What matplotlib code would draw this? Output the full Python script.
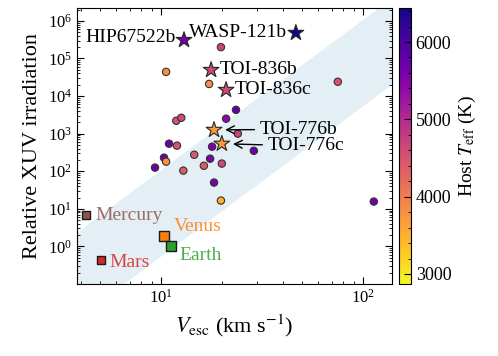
import numpy as np
import matplotlib
matplotlib.use("Agg")
import matplotlib.pyplot as plt
from matplotlib.colors import Normalize
from matplotlib.ticker import MultipleLocator

plt.rcParams['font.family'] = ['Liberation Serif', 'DejaVu Serif']
plt.rcParams['mathtext.fontset'] = 'stix'

# other planets (circles): escape velocity (km/s), relative XUV, host Teff (K)
vesc = [19.8, 10.6, 17.3, 23.5, 21.0, 11.9, 12.6, 24.0, 17.9, 28.8, 10.96, 12.0,
        14.6, 17.5, 10.35, 10.6, 9.34, 16.3, 20.0, 12.9, 18.3, 19.8, 75.0, 113.0]
xuv = [2.0e5, 4.4e4, 2.1e4, 4300, 2500, 2200, 2640, 1000, 450, 350, 540, 480,
       275, 216, 230, 180, 125, 140, 160, 104, 50, 16.6, 2.4e4, 15.6]
teff = [4700, 3800, 3800, 5800, 5400, 4500, 4600, 4700, 5600, 5700, 5700, 4500,
        4400, 5600, 5700, 3800, 5700, 4400, 4600, 4400, 5600, 3500, 4500, 5700]

# highlighted planets (stars)
star_names = ['HIP67522b', 'WASP-121b', 'TOI-836b', 'TOI-836c', 'TOI-776b', 'TOI-776c']
star_vesc = [13.0, 46.5, 17.7, 21.0, 18.3, 20.0]
star_xuv = [3.1e5, 4.8e5, 4.95e4, 1.46e4, 1.26e3, 540]
star_teff = [5650, 6440, 4600, 4600, 3700, 3700]

# solar system
ss_names = ['Mercury', 'Venus', 'Earth', 'Mars']
ss_vesc = [4.25, 10.36, 11.19, 5.03]
ss_xuv = [6.67, 1.91, 1.0, 0.43]
ss_colors = ['tab:brown', 'tab:orange', 'tab:green', 'tab:red']
ss_size = [30, 55, 55, 30]

# cosmic shoreline band: log I = 4 log v + c
band_lo, band_hi = -4.25, -1.95

fig = plt.figure(figsize=(4.98, 3.56), dpi=100)
ax = fig.add_axes([0.1546, 0.2022, 0.6325, 0.7753])
cax = fig.add_axes([0.801, 0.2022, 0.024, 0.7753])

norm = Normalize(vmin=2870, vmax=6440)
cmap = plt.get_cmap('plasma_r')

xx = np.logspace(np.log10(3.5), np.log10(160), 200)
ax.fill_between(xx, 10 ** (4 * np.log10(xx) + band_lo), 10 ** (4 * np.log10(xx) + band_hi),
                color='tab:blue', alpha=0.12, lw=0, zorder=0)

ax.scatter(vesc, xuv, c=teff, cmap=cmap, norm=norm, s=28, edgecolors='0.2', linewidths=0.8, zorder=3)
sc = ax.scatter(star_vesc, star_xuv, c=star_teff, cmap=cmap, norm=norm, marker='*', s=140,
                edgecolors='0.15', linewidths=0.8, zorder=4)
for v, i, c, s in zip(ss_vesc, ss_xuv, ss_colors, ss_size):
    ax.scatter(v, i, marker='s', s=s, color=c, edgecolors='0.1', linewidths=1.0, zorder=4)

fs = 14
offsets = {'HIP67522b': (-6, 1.5, 'right'), 'WASP-121b': (-6, 0, 'right'),
           'TOI-836b': (6.5, 0, 'left'), 'TOI-836c': (6, 0, 'left')}
for n, v, i in zip(star_names, star_vesc, star_xuv):
    if n in offsets:
        dx, dy, ha = offsets[n]
        ax.annotate(n, (v, i), xytext=(dx, dy), textcoords='offset points',
                    ha=ha, va='center', fontsize=fs)

ax.annotate('TOI-776b', xy=(star_vesc[4], star_xuv[4]), xytext=(30.9, 1.3e3),
            ha='left', va='center', fontsize=fs,
            arrowprops=dict(arrowstyle='->', color='k', lw=1, shrinkA=2, shrinkB=8))
ax.annotate('TOI-776c', xy=(star_vesc[5], star_xuv[5]), xytext=(33.8, 470),
            ha='left', va='center', fontsize=fs,
            arrowprops=dict(arrowstyle='->', color='k', lw=1, shrinkA=2, shrinkB=8))

ss_off = [(6.5, 0), (7, 6.5), (6.5, -6.5), (6.5, -1.5)]
for n, v, i, c, o in zip(ss_names, ss_vesc, ss_xuv, ss_colors, ss_off):
    ax.annotate(n, (v, i), xytext=o, textcoords='offset points', ha='left', va='center',
                fontsize=fs, color=c, alpha=0.85)

ax.set_xscale('log')
ax.set_yscale('log')
ax.set_xlim(3.84, 139)
ax.set_ylim(0.1, 2.2e6)
ax.set_yticks([1, 10, 100, 1e3, 1e4, 1e5, 1e6])
ax.tick_params(which='both', direction='in', top=True, right=True, labelsize=12)
ax.tick_params(which='major', length=5)
ax.tick_params(which='minor', length=2.5)
ax.set_xlabel(r'$V_{\rm esc}$ (km s$^{-1}$)', fontsize=16)
ax.set_ylabel('Relative XUV irradiation', fontsize=16)

cb = fig.colorbar(sc, cax=cax)
cb.set_ticks([3000, 4000, 5000, 6000])
cb.ax.yaxis.set_minor_locator(MultipleLocator(200))
cb.ax.tick_params(which='both', direction='in', labelsize=13)
cb.ax.tick_params(which='major', length=5)
cb.ax.tick_params(which='minor', length=2.5)
cb.set_label(r'Host $T_{\rm eff}$ (K)', fontsize=14)

fig.savefig('out.png', dpi=100)
